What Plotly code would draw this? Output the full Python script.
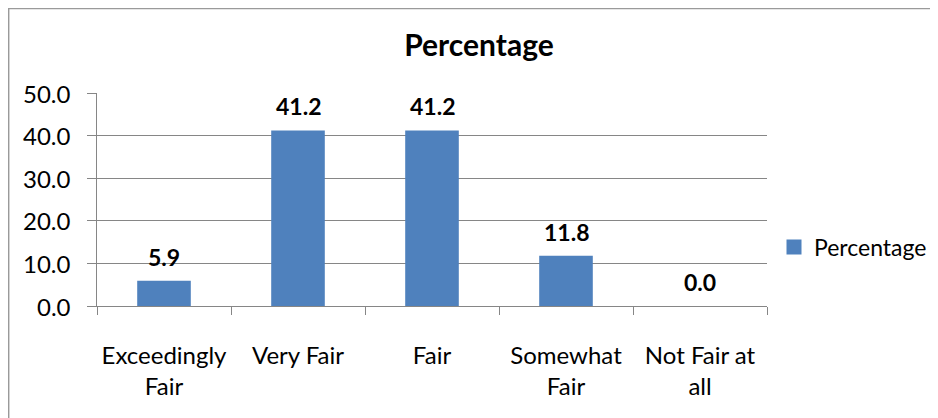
import plotly.graph_objects as go

categories = ["Exceedingly<br>Fair", "Very Fair", "Fair", "Somewhat<br>Fair", "Not Fair at<br>all"]
percentages = [5.9, 41.2, 41.2, 11.8, 0.0]
y_ticks = [0, 10, 20, 30, 40, 50]
series_name = "Percentage"

FONT = "Lato, Calibri, Carlito, sans-serif"
BAR = "#4F81BD"
GRID = "#868686"

# The page has an 8px body margin, so figure coords = reference coords - 8
OFF = 8
W, H = 938, 418
L, T = 97 - OFF, 93 - OFF
R = W - (767 - OFF)
B = H - (306 - OFF)
pw, ph = W - L - R, H - T - B

fig = go.Figure()
fig.add_trace(go.Bar(x=categories, y=percentages, name=series_name,
                     marker=dict(color=BAR, line=dict(width=0)),
                     showlegend=False))
# legend entry with a larger square swatch
fig.add_trace(go.Scatter(x=[None], y=[None], mode="markers", name=series_name,
                         marker=dict(symbol="square", size=15, color=BAR),
                         showlegend=True, hoverinfo="skip"))

for c, v in zip(categories, percentages):
    fig.add_annotation(x=c, y=v, text=f"<b>{v:.1f}</b>", showarrow=False,
                       yanchor="bottom", yshift=8,
                       font=dict(family=FONT, size=23, color="#000000"))

# y tick labels placed a little further from the axis, as in the reference
for t in y_ticks:
    fig.add_annotation(xref="paper", x=(73 - 97) / pw, yref="y", y=t, text=f"{t:.1f}",
                       showarrow=False, xanchor="right", yanchor="middle",
                       font=dict(family=FONT, size=24, color="#000000"))

fig.add_shape(type="rect", xref="paper", yref="paper",
              x0=(8 - OFF - L) / pw + 0.001, x1=(W + 20 - L) / pw,
              y0=-(B + 20) / ph, y1=(ph + T - (8 - OFF) - 0.5) / ph,
              line=dict(color="#9a9a9a", width=1.5), fillcolor="rgba(0,0,0,0)", layer="below")

fig.update_layout(
    width=W, height=H,
    margin=dict(l=L, r=R, t=T, b=B, autoexpand=False),
    paper_bgcolor="white", plot_bgcolor="white",
    bargap=0.6,
    title=dict(text="<b>Percentage</b>", x=(479 - OFF) / W, xanchor="center", xref="container",
               y=1 - (45 - OFF) / H, yanchor="middle", yref="container",
               font=dict(family=FONT, size=30, color="#000000")),
    font=dict(family=FONT, size=24, color="#000000"),
    legend=dict(x=(774 - OFF) / W, y=1 - (247 - OFF) / H, xanchor="left", yanchor="middle",
                xref="container", yref="container",
                font=dict(family=FONT, size=23, color="#000000"),
                bgcolor="rgba(0,0,0,0)", itemwidth=30),
    xaxis=dict(type="category", showgrid=False, showline=True, linecolor=GRID, linewidth=1,
               ticks="outside", tickson="boundaries", ticklen=8, tickcolor=GRID, tickwidth=1,
               ticklabelstandoff=28, automargin=False, tickangle=0,
               tickfont=dict(family=FONT, size=24, color="#000000"), fixedrange=True),
    yaxis=dict(range=[0, 50], tickvals=y_ticks, showticklabels=False, showgrid=True, gridcolor=GRID,
               gridwidth=1, showline=True, linecolor=GRID, linewidth=1, zeroline=False,
               ticks="outside", ticklen=9, tickcolor=GRID, tickwidth=1, automargin=False,
               fixedrange=True),
)

fig.write_html("out.html")
